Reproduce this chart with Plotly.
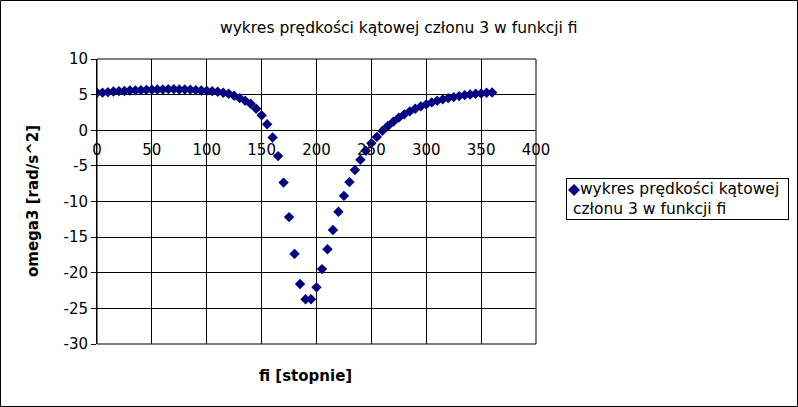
import plotly.graph_objects as go

fi = list(range(0, 361, 5))
omega3 = [
    5.26, 5.28, 5.35, 5.44, 5.49, 5.50, 5.58, 5.60, 5.63, 5.67,
    5.70, 5.72, 5.72, 5.77, 5.77, 5.72, 5.72, 5.70, 5.63, 5.58,
    5.53, 5.49, 5.40, 5.26, 5.12, 4.84, 4.51, 4.14, 3.72, 3.02,
    2.09, 0.84, -1.02, -3.63, -7.35, -12.19, -17.35, -21.58, -23.72, -23.72,
    -22.05, -19.49, -16.70, -14.00, -11.44, -9.21, -7.26, -5.58, -4.14, -2.88,
    -1.81, -0.93, -0.09, 0.60, 1.21, 1.77, 2.23, 2.65, 3.02, 3.35,
    3.63, 3.91, 4.14, 4.33, 4.51, 4.65, 4.79, 4.93, 5.02, 5.12,
    5.16, 5.26, 5.30,
]
x_ticks = [0, 50, 100, 150, 200, 250, 300, 350, 400]
y_ticks = [10, 5, 0, -5, -10, -15, -20, -25, -30]
y_tick_labels = ["10", "5", "0", "-5", "-10", "-15", "-20", "-25", "-30"]

title_text = "wykres prędkości kątowej członu 3 w funkcji fi"
legend_lines = ["wykres prędkości kątowej", "członu 3 w funkcji fi"]
x_title = "fi [stopnie]"
y_title = "omega3 [rad/s^2]"

FONT = "DejaVu Sans"
NAVY = "#000080"

fig = go.Figure()
fig.add_trace(go.Scatter(
    x=fi, y=omega3, mode="markers", name=legend_lines[0],
    marker=dict(symbol="diamond", size=8, color=NAVY),
    showlegend=False,
))

W, H = 798, 407
L, R, T, B = 97, 262, 59, 63
pw, ph = W - L - R, H - T - B

def px(xp):
    return (xp - L) / pw

def py(yp):
    return (H - B - yp) / ph

legend_text = ('<span style="color:%s">◆</span>%s<br> %s'
               % (NAVY, legend_lines[0], legend_lines[1]))

fig.update_layout(
    width=W, height=H,
    margin=dict(l=L, r=R, t=T, b=B),
    paper_bgcolor="white", plot_bgcolor="white",
    font=dict(family=FONT, size=15, color="#000000"),
    showlegend=False,
    xaxis=dict(
        range=[0, 400], tickvals=x_ticks, showgrid=True,
        gridcolor="#000000", gridwidth=1,
        anchor="free", position=0.75,
        showline=True, linecolor="#000000", linewidth=1,
        zeroline=False, ticks="", ticklabelstandoff=6,
        tickfont=dict(size=15, color="#000000"),
    ),
    yaxis=dict(
        range=[-30, 10], tickvals=y_ticks, ticktext=y_tick_labels, showgrid=True,
        gridcolor="#000000", gridwidth=1,
        showline=True, linecolor="#000000", linewidth=1,
        zeroline=True, zerolinecolor="#000000", zerolinewidth=1,
        ticks="outside", ticklen=5, tickcolor="#000000",
        tickfont=dict(size=15, color="#000000"),
    ),
    annotations=[
        dict(text=title_text, x=px(399), y=py(28), xref="paper", yref="paper",
             showarrow=False, xanchor="center", yanchor="middle",
             font=dict(family=FONT, size=15.5, color="#000000")),
        dict(text="<b>" + x_title + "</b>", x=px(305), y=py(376), xref="paper", yref="paper",
             showarrow=False, xanchor="center", yanchor="middle",
             font=dict(family=FONT, size=15, color="#000000")),
        dict(text="<b>" + y_title + "</b>", x=px(33), y=py(201), xref="paper", yref="paper",
             showarrow=False, xanchor="center", yanchor="middle", textangle=-90,
             font=dict(family=FONT, size=15, color="#000000")),
        dict(text=legend_text, x=px(566), y=py(178), xref="paper", yref="paper",
             showarrow=False, xanchor="left", yanchor="top", align="left",
             width=219, bordercolor="#000000", borderwidth=1, borderpad=1,
             bgcolor="white",
             font=dict(family=FONT, size=15.5, color="#000000")),
    ],
    shapes=[
        dict(type="rect", xref="paper", yref="paper", x0=0, x1=1, y0=0, y1=1,
             line=dict(color="#000000", width=1), layer="above"),
        dict(type="rect", xref="paper", yref="paper",
             x0=px(0.5), x1=px(797.5), y0=py(406.5), y1=py(0.5),
             line=dict(color="#000000", width=1), layer="above"),
    ],
)

fig.write_html(
    "out.html",
    config={"displayModeBar": False},
    post_script="document.body.style.margin='0';document.body.style.overflow='hidden';",
)
